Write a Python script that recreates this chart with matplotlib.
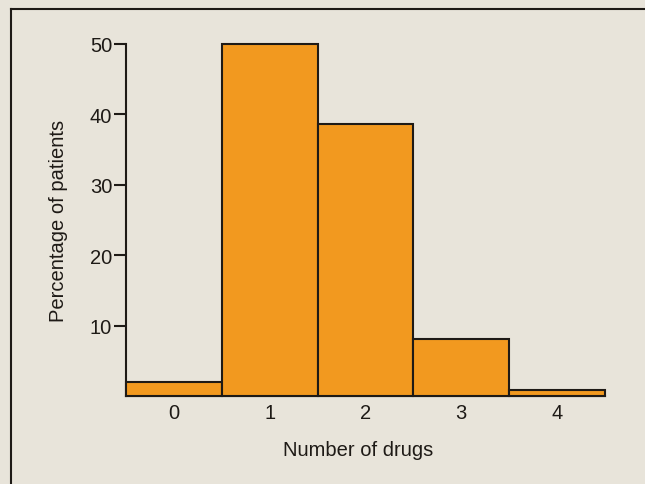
import matplotlib
matplotlib.use('Agg')
import matplotlib.pyplot as plt
from matplotlib.lines import Line2D

# data
num_drugs = [0, 1, 2, 3, 4]
pct_patients = [2.0, 50.0, 38.6, 8.1, 0.9]
y_ticks = [10, 20, 30, 40, 50]

paper = '#e8e4da'
orange = '#f2991f'
ink = '#1e1a16'

plt.rcParams['font.family'] = ['Liberation Sans', 'DejaVu Sans']

fig = plt.figure(figsize=(6.45, 4.85), dpi=100, facecolor=paper)
ax = fig.add_axes([126 / 645, 88 / 485, 479 / 645, 352 / 485])
ax.set_facecolor(paper)

ax.bar(num_drugs, pct_patients, width=1.0, color=orange,
       edgecolor=ink, linewidth=1.5, clip_on=False, zorder=3)

ax.set_xlim(-0.5, 4.5)
ax.set_ylim(0, 50)

ax.set_xticks(num_drugs)
ax.set_xticklabels([str(n) for n in num_drugs])
ax.set_yticks(y_ticks)
ax.tick_params(axis='x', length=0, pad=5, labelsize=14.5, colors=ink)
ax.tick_params(axis='y', length=9, width=1.5, pad=1, labelsize=14.5, colors=ink)

for side in ['top', 'right']:
    ax.spines[side].set_visible(False)
for side in ['left', 'bottom']:
    ax.spines[side].set_linewidth(1.5)
    ax.spines[side].set_color(ink)

ax.set_ylabel('Percentage of patients', fontsize=14.5, color=ink, labelpad=16)
ax.set_xlabel('Number of drugs', fontsize=14.5, color=ink)
ax.xaxis.set_label_coords(0.485, -0.125)

# the page frame around the figure
fig.add_artist(Line2D([11 / 645, 11 / 645], [0, 1 - 10 / 485],
                      transform=fig.transFigure, color=ink, linewidth=1.5))
fig.add_artist(Line2D([11 / 645, 1], [1 - 10 / 485, 1 - 10 / 485],
                      transform=fig.transFigure, color=ink, linewidth=1.5))

fig.savefig('out.png', dpi=100, facecolor=paper)
plt.close(fig)
